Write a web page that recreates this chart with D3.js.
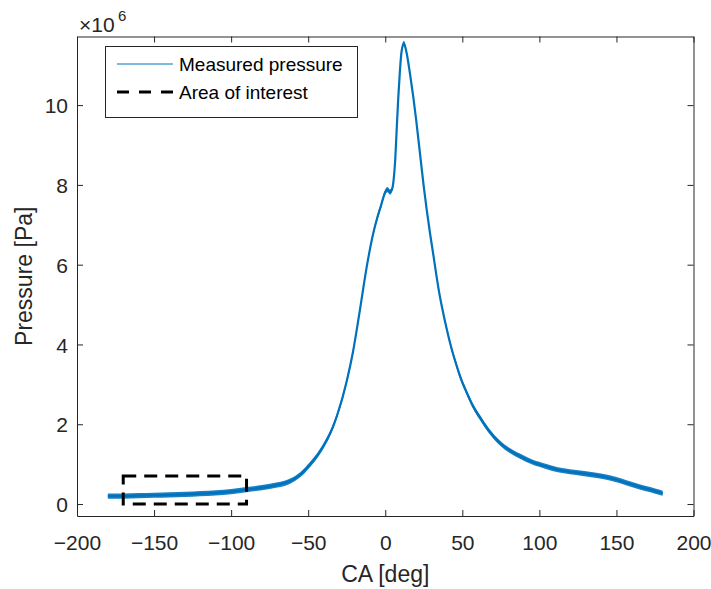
<!DOCTYPE html>
<html>
<head>
<meta charset="utf-8">
<script src="https://cdn.jsdelivr.net/npm/d3@7"></script>
<style>
  body { margin: 0; background: #fff; }
  svg { display: block; }
</style>
</head>
<body>
<div id="chart"></div>
<script>
// crank angle [deg] and measured pressure [Pa]
let caDeg = [-180, -170, -160, -150, -140, -130, -120, -110, -100, -90, -80, -70, -62, -55, -49, -44,
             -38, -34, -31, -25, -21, -16.5, -12, -8, -5, -3, -1.5, 0, 1.5, 3, 4.5, 5.5, 6.5, 7.5, 8.4,
             9.5, 10.6, 12.1, 13.9, 16, 18.2, 20, 22.5, 25, 27, 29, 31, 33, 35, 37, 39.8, 43, 46.3,
             49.5, 52.8, 57, 61.4, 67, 74.4, 80, 87.4, 95, 104.7, 112, 119.8, 128, 137.1, 145, 150,
             156.6, 165, 172, 178.2, 180];
let pressure = [0.20e6, 0.20e6, 0.21e6, 0.22e6, 0.23e6, 0.24e6, 0.26e6, 0.28e6, 0.31e6, 0.36e6, 0.41e6,
                0.48e6, 0.57e6, 0.74e6, 0.98e6, 1.22e6, 1.60e6, 1.93e6, 2.25e6, 3.08e6, 3.80e6, 4.85e6,
                5.95e6, 6.75e6, 7.20e6, 7.45e6, 7.65e6, 7.82e6, 7.88e6, 7.82e6, 7.90e6, 8.15e6, 8.65e6,
                9.45e6, 10.15e6, 10.85e6, 11.35e6, 11.55e6, 11.3e6, 10.8e6, 10.2e6, 9.65e6, 8.8e6, 7.95e6,
                7.35e6, 6.8e6, 6.3e6, 5.78e6, 5.3e6, 4.9e6, 4.4e6, 3.9e6, 3.47e6, 3.1e6, 2.8e6,
                2.45e6, 2.17e6, 1.85e6, 1.53e6, 1.36e6, 1.2e6, 1.06e6, 0.94e6, 0.86e6, 0.81e6, 0.77e6,
                0.72e6, 0.66e6, 0.61e6, 0.53e6, 0.43e6, 0.36e6, 0.29e6, 0.27e6];
// sensor noise band (+/- Pa), gives the fuzzy look of the trace
let noiseAmp = 0.065e6;

// area of interest box
let aoiCA = [-170, -90];
let aoiP = [0, 0.7e6];

let xTicks = [-200, -150, -100, -50, 0, 50, 100, 150, 200];
let yTicks = [0, 2e6, 4e6, 6e6, 8e6, 10e6];
let yTickLabels = ["0", "2", "4", "6", "8", "10"];
let legendLabels = ["Measured pressure", "Area of interest"];

let width = 711, height = 589;
let box = {left: 77, right: 693.5, top: 36.5, bottom: 516};
let font = "'Liberation Sans', Arial, Helvetica, sans-serif";
let color_blue = "#0072BD";
let axis_color = "#262626";

let data = caDeg.map((d, i) => ({ca: d, p: pressure[i]}));

let svg = d3.select("#chart")
            .append("svg")
            .attr("width", width)
            .attr("height", height)
            .attr("viewBox", [0, 0, width, height]);

let x = d3.scaleLinear()
          .domain([-200, 200])
          .range([box.left, box.right]);

let y = d3.scaleLinear()
          .domain([-0.3e6, 11.72e6])
          .range([box.bottom, box.top]);

// trace: noise band + centre line
svg.append("path")
    .datum(data)
    .attr("fill", color_blue)
    .attr("fill-opacity", 0.9)
    .attr("d", d3.area()
        .x(d => x(d.ca))
        .y0(d => y(d.p - noiseAmp))
        .y1(d => y(d.p + noiseAmp))
        .curve(d3.curveMonotoneX));

svg.append("path")
    .datum(data)
    .attr("fill", "none")
    .attr("stroke", color_blue)
    .attr("stroke-width", 2.2)
    .attr("d", d3.line()
        .x(d => x(d.ca))
        .y(d => y(d.p))
        .curve(d3.curveMonotoneX));

// dashed rectangle
svg.append("rect")
    .attr("x", x(aoiCA[0]))
    .attr("y", y(aoiP[1]))
    .attr("width", x(aoiCA[1]) - x(aoiCA[0]))
    .attr("height", y(aoiP[0]) - y(aoiP[1]))
    .attr("fill", "none")
    .attr("stroke", "#000")
    .attr("stroke-width", 3)
    .attr("stroke-dasharray", "13,8");

// axes, MATLAB style: box on, ticks pointing in
function styleAxis(g) {
    g.attr("font-family", font).attr("font-size", 21);
    g.selectAll(".domain").attr("stroke", axis_color).attr("stroke-width", 1);
    g.selectAll(".tick line").attr("stroke", axis_color).attr("stroke-width", 1);
    g.selectAll(".tick text").attr("fill", axis_color);
}

svg.append("g")
    .attr("transform", "translate(0," + box.bottom + ")")
    .call(d3.axisBottom(x).tickValues(xTicks).tickSizeInner(-6).tickSizeOuter(0).tickPadding(19))
    .call(styleAxis);

svg.append("g")
    .attr("transform", "translate(0," + box.top + ")")
    .call(d3.axisTop(x).tickValues(xTicks).tickSizeInner(-6).tickSizeOuter(0).tickFormat(""))
    .call(styleAxis);

svg.append("g")
    .attr("transform", "translate(" + box.left + ",0)")
    .call(d3.axisLeft(y).tickValues(yTicks).tickSizeInner(-6).tickSizeOuter(0).tickPadding(9)
            .tickFormat((d, i) => yTickLabels[i]))
    .call(styleAxis)
    .call(g => g.selectAll(".tick text").attr("dy", "0.36em"));

svg.append("g")
    .attr("transform", "translate(" + box.right + ",0)")
    .call(d3.axisRight(y).tickValues(yTicks).tickSizeInner(-6).tickSizeOuter(0).tickFormat(""))
    .call(styleAxis);

// exponent label
svg.append("text")
    .attr("x", 79)
    .attr("y", 32)
    .attr("font-family", font)
    .attr("font-size", 21)
    .attr("fill", axis_color)
    .text("\u00d710");
svg.append("text")
    .attr("x", 118)
    .attr("y", 21)
    .attr("font-family", font)
    .attr("font-size", 15)
    .attr("fill", axis_color)
    .text("6");

// axis titles
svg.append("text")
    .attr("x", (box.left + box.right) / 2)
    .attr("y", 582)
    .attr("text-anchor", "middle")
    .attr("font-family", font)
    .attr("font-size", 23)
    .attr("fill", axis_color)
    .text("CA [deg]");

svg.append("text")
    .attr("transform", "translate(32," + ((box.top + box.bottom) / 2) + ") rotate(-90)")
    .attr("text-anchor", "middle")
    .attr("font-family", font)
    .attr("font-size", 23)
    .attr("fill", axis_color)
    .text("Pressure [Pa]");

// legend
let legend = svg.append("g").attr("class", "legend");

legend.append("rect")
    .attr("x", 105.5)
    .attr("y", 46.5)
    .attr("width", 252)
    .attr("height", 71)
    .attr("fill", "#fff")
    .attr("stroke", axis_color)
    .attr("stroke-width", 1);

let items = legend.selectAll(".item")
    .data(legendLabels)
    .enter().append("g")
    .attr("class", "item")
    .attr("transform", (d, i) => "translate(0," + (64 + i * 28) + ")");

items.append("line")
    .attr("x1", 117)
    .attr("x2", 173)
    .attr("stroke", (d, i) => i == 0 ? color_blue : "#000")
    .attr("stroke-width", (d, i) => i == 0 ? 1 : 3)
    .attr("stroke-dasharray", (d, i) => i == 0 ? null : "12,10");

items.append("text")
    .attr("x", 179)
    .attr("y", 7)
    .attr("font-family", font)
    .attr("font-size", 19)
    .attr("fill", "#000")
    .text(d => d);
</script>
</body>
</html>
